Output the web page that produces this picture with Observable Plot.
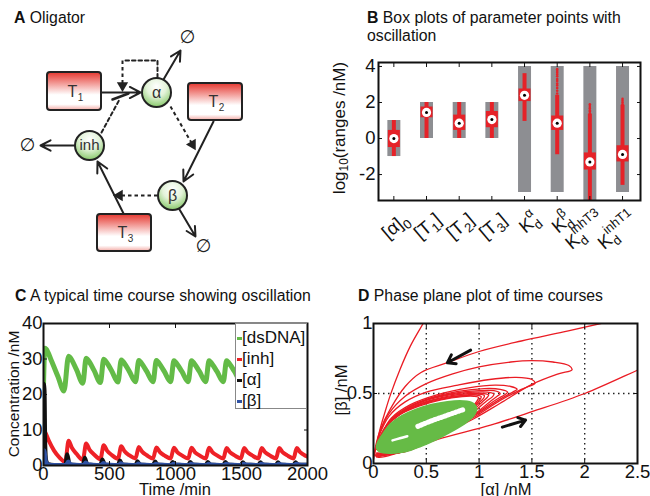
<!DOCTYPE html>
<html><head><meta charset="utf-8">
<script src="https://cdn.jsdelivr.net/npm/d3@7"></script>
<script src="https://cdn.jsdelivr.net/npm/@observablehq/plot@0.6"></script>
<style>
body{margin:0;background:#fff;}
#root{position:relative;width:650px;height:496px;overflow:hidden;font-family:"Liberation Sans",Arial,sans-serif;color:#111;}
.t{position:absolute;white-space:nowrap;font-size:15.8px;line-height:18px;}
.lab{position:absolute;white-space:nowrap;transform:translate(-50%,-50%);}
.rot{transform:translate(-50%,-50%) rotate(-90deg);}
sub{font-size:70%;vertical-align:-0.25em;line-height:0;}
svg.plot, figure{max-width:none!important;}
</style></head><body><div id="root"></div>
<script>
// ---------------- Panel A data (diagram) ----------------
const boxName = ["T","T","T"];
const boxSub = ["1","2","3"];
const boxX1 = [47,188,97], boxX2 = [101,242,151], boxY1 = [72,83,214], boxY2 = [110,120,251];
const nodeName = ["α","inh","β"];
const nodeX = [156,89,172], nodeY = [92,145,195];
const solidFrom = [[101,92],[163,79],[213,121],[123,213],[179,209],[74,145]];
const solidTo   = [[140,92],[180,50],[183,181],[97,161],[195,236],[40,145]];
const dashFrom = [[170,106],[157,195],[122,60]];
const dashTo   = [[192,144],[119,195],[122,85]];
const dashLoop = [[157,77],[157,60],[122,60]];
const inhibitLine = [[101,132],[119,99]];
const inhibitBar = [[112,99],[128,93]];
const emptyX = [187,27,203], emptyY = [37,145,246];

// ---------------- Panel B data ----------------
const paramMain = ["[α]","[T","[T","[T","K","K","K","K"];
const paramSub  = ["0","1","2","3","d","d","d","d"];
const paramTail = ["","]","]","]","","","",""];
const paramSup  = ["","","","","α","β","inhT3","inhT1"];
const rangeLo = [-1,0,0,0,-3,-3,-4,-3];
const rangeHi = [1,2,2,2,4,4,4,4];
const boxQ1 = [-0.5,1.15,0.45,0.6,2.05,0.45,-1.75,-1.3];
const boxQ3 = [0.45,1.75,1.3,1.5,2.75,1.25,-0.8,-0.4];
const medians = [0,1.45,0.85,1.05,2.4,0.85,-1.3,-0.88];
const whiskLo = [-1,0,0,0,0.95,-0.9,-4,-2.6];
const whiskHi = [1,2,2,2,3.6,2.4,1.35,1.85];
const outIdx = [6,6,6,6,6,6,6,6,6,6,6,6,7,7,7,7,7,7,7,8,8,8,8];
const outVal = [2.5,2.65,2.8,2.95,3.05,3.2,3.3,3.45,3.55,3.65,3.75,3.85,1.4,1.5,1.55,1.65,1.7,1.8,1.9,1.9,2.0,2.1,2.2];

// ---------------- Panel C data ----------------
const tGreen = [0,10,20,60,110,155,190,200,250,298,323,333,383,431,456,466,516,564,589,599,649,697,722,732,782,830,855,865,915,963,988,998,1048,1096,1121,1131,1181,1229,1254,1264,1314,1362,1387,1397,1447,1495,1520,1530,1580,1628,1653,1663,1713,1761,1786,1796,1846,1894,1919,1929,1979,2000];
const vGreen = [22.5,33,32.8,29.5,25,21, 30.8,30.5,27,23.2, 30.2,29.9,26.8,23.4, 29.9,29.6,26.7,23.5, 29.7,29.4,26.6,23.6, 29.6,29.3,26.5,23.6, 29.6,29.3,26.5,23.6, 29.5,29.2,26.5,23.6, 29.5,29.2,26.5,23.6, 29.5,29.2,26.5,23.6, 29.5,29.2,26.5,23.6, 29.5,29.2,26.5,23.6, 29.5,29.2,26.5,23.6, 29.5,29.2,26.5,23.6, 29.5,29.2,26.8,26.0];
const tRed = [0,5,12,40,80,120,165, 190,215,250,298, 323,348,383,431, 456,481,516,564, 589,614,649,697, 722,747,782,830, 855,880,915,963, 988,1013,1048,1096, 1121,1146,1181,1229, 1254,1279,1314,1362, 1387,1412,1447,1495, 1520,1545,1580,1628, 1653,1678,1713,1761, 1786,1811,1846,1894, 1919,1944,1979,2000];
const vRed = [0.5,9.8,9.4,7.0,4.2,2.3,1.0, 7.0,5.0,3.3,1.6, 6.2,4.5,3.1,1.8, 5.7,4.2,3.0,1.9, 5.4,4.0,2.9,2.0, 5.2,3.9,2.9,2.0, 5.1,3.85,2.85,2.0, 5.0,3.8,2.85,2.0, 5.0,3.8,2.85,2.0, 5.0,3.8,2.85,2.0, 4.9,3.75,2.85,2.0, 4.9,3.75,2.85,2.0, 4.9,3.75,2.85,2.0, 4.9,3.75,2.85,2.0, 4.9,3.75,2.85,2.5];
const tAlpha = [0,2,8,13,20,35,80, 165,180,198, 298,313,331, 431,446,464, 564,579,597, 697,712,730, 830,845,863, 963,978,996, 1096,1111,1129, 1229,1244,1262, 1362,1377,1395, 1495,1510,1528, 1628,1643,1661, 1761,1776,1794, 1894,1909,1927, 2000];
const vAlpha = [0,23,21,6,1.5,0.4,0.15, 0.15,3.2,0.3, 0.15,2.2,0.3, 0.15,1.7,0.3, 0.15,1.4,0.3, 0.15,1.2,0.3, 0.15,1.1,0.3, 0.15,1.0,0.3, 0.15,1.0,0.3, 0.15,1.0,0.3, 0.15,1.0,0.3, 0.15,0.95,0.3, 0.15,0.95,0.3, 0.15,0.95,0.3, 0.15,0.95,0.3, 0.2];
const tBeta = [0,4,9,18,35,80, 170,187,205,240, 303,320,338,373, 436,453,471,506, 569,586,604,639, 702,719,737,772, 835,852,870,905, 968,985,1003,1038, 1101,1118,1136,1171, 1234,1251,1269,1304, 1367,1384,1402,1437, 1500,1517,1535,1570, 1633,1650,1668,1703, 1766,1783,1801,1836, 1899,1916,1934,1969, 2000];
const vBeta = [0.2,4.3,3.8,1.2,0.3,0.15, 0.15,1.1,0.4,0.2, 0.15,0.85,0.35,0.2, 0.15,0.7,0.3,0.2, 0.15,0.6,0.3,0.2, 0.15,0.55,0.3,0.2, 0.15,0.5,0.3,0.2, 0.15,0.5,0.3,0.2, 0.15,0.5,0.3,0.2, 0.15,0.5,0.3,0.2, 0.15,0.5,0.3,0.2, 0.15,0.5,0.3,0.2, 0.15,0.5,0.3,0.2, 0.15,0.5,0.3,0.2, 0.15,0.5,0.3,0.2, 0.2];
const seriesNames = ["[dsDNA]","[inh]","[α]","[β]"];
const seriesColors = ["#63bb47","#ee2127","#111111","#2f52a4"];

// ---------------- Panel D data ----------------
const loopA = [[0.0,0.03],[0.02,0.1],[0.06,0.24],[0.11,0.37],[0.16,0.49],[0.25,0.67],[0.35,0.84],[0.47,1.0],[0.53,1.08]];
const loopB = [[2.4,1.04],[2.15,1.0],[1.8,0.94],[1.4,0.875],[1.0,0.8],[0.7,0.72],[0.45,0.65],[0.3,0.55],[0.16,0.39],[0.07,0.25],[0.025,0.14],[0.012,0.07],[0.04,0.045],[0.25,0.08],[0.6,0.17],[1.108,0.274],[1.5,0.37],[2.0,0.5],[2.5,0.667],[2.6,0.7]];
const loopC = [[0.03,0.05],[0.3,0.1],[0.65,0.21],[0.95,0.32],[1.2,0.43],[1.5,0.565],[1.75,0.64],[1.88,0.67],[1.85,0.7],[1.7,0.725],[1.5,0.735],[1.3,0.725],[1.0,0.69],[0.75,0.64],[0.5,0.57],[0.3,0.48],[0.15,0.36],[0.06,0.22],[0.02,0.1]];
const loopD = [[0.03,0.05],[0.3,0.095],[0.65,0.21],[0.95,0.33],[1.2,0.45],[1.4,0.53],[1.53,0.575],[1.5,0.6],[1.35,0.615],[1.1,0.6],[0.8,0.56],[0.5,0.51],[0.3,0.44],[0.15,0.34],[0.06,0.21],[0.02,0.1]];
const loopE = [[0.03,0.05],[0.3,0.09],[0.65,0.21],[0.95,0.34],[1.2,0.46],[1.33,0.515],[1.36,0.53],[1.3,0.55],[1.15,0.56],[0.9,0.54],[0.6,0.49],[0.35,0.42],[0.17,0.325],[0.07,0.2],[0.02,0.1]];
const loopF = [[0.03,0.055],[0.3,0.09],[0.65,0.21],[0.95,0.345],[1.15,0.45],[1.25,0.495],[1.27,0.51],[1.2,0.53],[1.05,0.535],[0.8,0.515],[0.55,0.47],[0.32,0.4],[0.16,0.31],[0.07,0.19],[0.02,0.1]];
const loopG = [[0.03,0.055],[0.3,0.09],[0.65,0.215],[0.95,0.35],[1.1,0.44],[1.18,0.485],[1.2,0.5],[1.14,0.52],[1.0,0.52],[0.75,0.5],[0.5,0.455],[0.3,0.385],[0.15,0.295],[0.07,0.19],[0.02,0.1]];
const loopH = [[0.03,0.06],[0.3,0.09],[0.65,0.215],[0.92,0.35],[1.06,0.44],[1.13,0.48],[1.14,0.495],[1.08,0.51],[0.95,0.51],[0.72,0.49],[0.48,0.445],[0.28,0.375],[0.14,0.285],[0.06,0.18],[0.02,0.1]];
const loopI = [[0.03,0.06],[0.3,0.088],[0.65,0.215],[0.9,0.35],[1.03,0.44],[1.08,0.475],[1.09,0.49],[1.04,0.5],[0.92,0.5],[0.7,0.48],[0.47,0.435],[0.27,0.365],[0.13,0.275],[0.06,0.18],[0.02,0.1]];
const loopJ = [[0.03,0.065],[0.3,0.087],[0.65,0.215],[0.88,0.35],[1.0,0.435],[1.045,0.47],[1.05,0.485],[1.0,0.495],[0.88,0.49],[0.68,0.47],[0.45,0.425],[0.26,0.355],[0.12,0.265],[0.055,0.175],[0.02,0.1]];
const loopK = [[0.03,0.07],[0.3,0.086],[0.65,0.215],[0.87,0.35],[0.98,0.43],[1.015,0.465],[1.02,0.478],[0.97,0.488],[0.86,0.485],[0.66,0.462],[0.44,0.418],[0.25,0.35],[0.12,0.26],[0.05,0.17],[0.02,0.1]];
const loopL = [[0.03,0.075],[0.3,0.085],[0.65,0.215],[0.86,0.35],[0.96,0.425],[0.99,0.46],[0.995,0.472],[0.95,0.48],[0.84,0.478],[0.64,0.455],[0.43,0.41],[0.24,0.345],[0.11,0.255],[0.05,0.165],[0.02,0.1]];
const limitCycle = [[0.03,0.11],[0.06,0.085],[0.15,0.075],[0.3,0.085],[0.45,0.125],[0.6,0.175],[0.75,0.235],[0.87,0.29],[0.95,0.345],[0.975,0.39],[0.94,0.43],[0.85,0.445],[0.7,0.44],[0.55,0.42],[0.4,0.385],[0.27,0.34],[0.16,0.28],[0.08,0.2],[0.04,0.15]];
const gapSolid = [[0.18,0.165],[0.25,0.18],[0.32,0.195]];
const gapChevrons = [[0.42,0.265],[0.55,0.305],[0.7,0.345],[0.85,0.385]];
const dirFrom = [[0.92,0.81],[1.22,0.26]];
const dirTo = [[0.70,0.72],[1.44,0.31]];

// ---------------- helpers ----------------
const root = document.getElementById("root");
const FONT = "Liberation Sans, Arial, sans-serif";
function put(node, left, top) {
  node.style.position = "absolute"; node.style.left = left + "px"; node.style.top = top + "px";
  node.style.background = "transparent"; node.style.overflow = "visible";
  root.appendChild(node); return node;
}
function html(cls, h, left, top, css) {
  const d = document.createElement("div"); d.className = cls; d.innerHTML = h;
  d.style.left = left + "px"; d.style.top = top + "px";
  if (css) Object.assign(d.style, css);
  root.appendChild(d); return d;
}
const rows = (pts, id) => pts.map(([x, y]) => ({x, y, id}));

// ---------------- Panel A ----------------
const boxes = boxName.map((n, i) => ({name: n, sub: boxSub[i], x1: boxX1[i], x2: boxX2[i], y1: boxY1[i], y2: boxY2[i]}));
const nodes = nodeName.map((n, i) => ({name: n, x: nodeX[i], y: nodeY[i]}));
const solid = solidFrom.map((f, i) => ({x1: f[0], y1: f[1], x2: solidTo[i][0], y2: solidTo[i][1]}));
const dashed = dashFrom.map((f, i) => ({x1: f[0], y1: f[1], x2: dashTo[i][0], y2: dashTo[i][1]}));
const empties = emptyX.map((x, i) => ({x, y: emptyY[i]}));
const plotA = Plot.plot({
  width: 330, height: 262, margin: 0,
  x: {domain: [0, 330], range: [0, 330], axis: null},
  y: {domain: [0, 262], range: [0, 262], axis: null},
  style: {fontFamily: FONT, background: "transparent", overflow: "visible"},
  marks: [
    Plot.line(rows(dashLoop, "l"), {x: "x", y: "y", stroke: "#222", strokeWidth: 2, strokeDasharray: "3.5,3"}),
    Plot.line(rows(inhibitLine, "i"), {x: "x", y: "y", stroke: "#222", strokeWidth: 2, strokeDasharray: "3.5,3"}),
    Plot.link(dashed, {x1: "x1", y1: "y1", x2: "x2", y2: "y2", stroke: "#222", strokeWidth: 2, strokeDasharray: "3.5,3"}),
    Plot.dot(dashed, {x: "x2", y: "y2", symbol: "triangle", r: 4.2, fill: "#222", stroke: null,
      rotate: d => Math.atan2(d.x2 - d.x1, -(d.y2 - d.y1)) * 180 / Math.PI}),
    Plot.arrow(solid, {x1: "x1", y1: "y1", x2: "x2", y2: "y2", stroke: "#222", strokeWidth: 2, headLength: 9, headAngle: 55}),
    Plot.line(rows(inhibitBar, "b"), {x: "x", y: "y", stroke: "#222", strokeWidth: 2.5}),
    Plot.rect(boxes, {x1: "x1", x2: "x2", y1: "y1", y2: "y2", fill: "url(#gradT)", stroke: "#222", strokeWidth: 2, rx: 3}),
    Plot.dot(nodes, {x: "x", y: "y", r: 14.5, fill: "url(#gradC)", stroke: "#222", strokeWidth: 2}),
    Plot.text(boxes, {x: d => (d.x1 + d.x2) / 2 - 2, y: d => (d.y1 + d.y2) / 2, text: "name", fontSize: 16, fill: "#333"}),
    Plot.text(boxes, {x: d => (d.x1 + d.x2) / 2 + 6, y: d => (d.y1 + d.y2) / 2 + 6, text: "sub", fontSize: 10, fill: "#333"}),
    Plot.text(nodes, {x: "x", y: "y", text: "name", fontSize: d => d.name === "inh" ? 15 : 16, fill: "#333"}),
    Plot.text(empties, {x: "x", y: "y", text: () => "∅", fontSize: 18, fontFamily: "DejaVu Sans", fill: "#222"})
  ]
});
{
  const defs = d3.select(plotA).insert("defs", ":first-child");
  const g1 = defs.append("linearGradient").attr("id", "gradT").attr("x1", 0).attr("y1", 0).attr("x2", 0).attr("y2", 1);
  g1.append("stop").attr("offset", "0").attr("stop-color", "#e5372f");
  g1.append("stop").attr("offset", "0.6").attr("stop-color", "#ffffff");
  g1.append("stop").attr("offset", "0.85").attr("stop-color", "#ffffff");
  g1.append("stop").attr("offset", "1").attr("stop-color", "#f3aaa5");
  const g2 = defs.append("radialGradient").attr("id", "gradC").attr("cx", 0.5).attr("cy", 0.3).attr("r", 0.75);
  g2.append("stop").attr("offset", "0").attr("stop-color", "#ffffff");
  g2.append("stop").attr("offset", "0.45").attr("stop-color", "#e3f3d9");
  g2.append("stop").attr("offset", "1").attr("stop-color", "#7cc35c");
}
put(plotA, 0, 0);
html("t", "<b>A</b> Oligator", 14, 9);

// ---------------- Panel B ----------------
const RED = "#e52228";
const bData = paramMain.map((m, i) => ({i: i + 1, lo: rangeLo[i], hi: rangeHi[i], q1: boxQ1[i], q3: boxQ3[i], med: medians[i], wl: whiskLo[i], wh: whiskHi[i]}));
const bOut = outIdx.map((k, j) => ({i: k, v: outVal[j]}));
const plotB = Plot.plot({
  width: 320, height: 250, marginLeft: 48, marginRight: 10, marginTop: 62, marginBottom: 50,
  x: {domain: [0.53, 8.55]}, y: {domain: [-3.44, 4.22]},
  style: {fontFamily: FONT, fontSize: "18.5px", background: "transparent", overflow: "visible", color: "#111"},
  marks: [
    Plot.ruleX(bData, {x: "i", y1: "lo", y2: "hi", stroke: "#8d8e92", strokeWidth: 13, clip: true}),
    Plot.ruleX(bData, {x: "i", y1: "wl", y2: "wh", stroke: RED, strokeWidth: 4, clip: true}),
    Plot.dot(bOut, {x: "i", y: "v", r: 1.3, fill: RED}),
    Plot.ruleX(bData, {x: "i", y1: "q1", y2: "q3", stroke: RED, strokeWidth: 12}),
    Plot.dot(bData, {x: "i", y: "med", r: 4.6, fill: "white"}),
    Plot.dot(bData, {x: "i", y: "med", r: 1.5, fill: "black"}),
    Plot.axisY({anchor: "left", ticks: [-2, 0, 2, 4], tickSize: -4, tickPadding: 7, tickFormat: d => String(d), label: null}),
    Plot.axisY({anchor: "right", ticks: [-2, 0, 2, 4], tickSize: -4, tickFormat: () => "", label: null}),
    Plot.axisX({anchor: "bottom", ticks: [1,2,3,4,5,6,7,8], tickSize: -4, tickFormat: () => "", label: null}),
    Plot.axisX({anchor: "top", ticks: [1,2,3,4,5,6,7,8], tickSize: -4, tickFormat: () => "", label: null}),
    Plot.text(bData, {x: "i", frameAnchor: "bottom", text: (d, k) => paramMain[k] + paramSub[k] + paramTail[k] + paramSup[k],
      rotate: -40, textAnchor: "end", lineAnchor: "bottom", dx: 16, dy: 21, fontSize: 18.5}),
    Plot.frame({stroke: "#111", strokeWidth: 2})
  ]
});
d3.select(plotB).selectAll('g[aria-label="text"] text').each(function(d, k) {
  const el = d3.select(this); el.text("");
  el.append("tspan").text(paramMain[k]);
  el.append("tspan").attr("dy", 5).attr("font-size", 13).text(paramSub[k]);
  if (paramSup[k]) el.append("tspan").attr("dx", -7.5).attr("dy", -15).attr("font-size", 13).text(paramSup[k]);
  if (paramTail[k]) el.append("tspan").attr("dy", -5).text(paramTail[k]);
});
put(plotB, 330, 0);
html("t", "<b>B</b> Box plots of parameter points with<br>oscillation", 367, 9);
html("lab rot", "log<sub>10</sub>(ranges /nM)", 340, 128, {fontSize: "17px"});

// ---------------- Panel C ----------------
const mk = (t, v) => t.map((x, i) => ({t: x, v: v[i]}));
const plotC = Plot.plot({
  width: 330, height: 186, marginLeft: 43, marginRight: 23, marginTop: 13, marginBottom: 31,
  x: {domain: [0, 2000]}, y: {domain: [0, 40]},
  style: {fontFamily: FONT, fontSize: "18.5px", background: "transparent", overflow: "visible", color: "#111"},
  marks: [
    Plot.line(mk(tGreen, vGreen), {x: "t", y: "v", stroke: seriesColors[0], strokeWidth: 5, curve: "monotone-x", clip: true}),
    Plot.line(mk(tRed, vRed), {x: "t", y: "v", stroke: seriesColors[1], strokeWidth: 4, curve: "monotone-x", clip: true}),
    Plot.line(mk(tAlpha, vAlpha), {x: "t", y: "v", stroke: seriesColors[2], strokeWidth: 4, curve: "monotone-x", clip: true}),
    Plot.line(mk(tBeta, vBeta), {x: "t", y: "v", stroke: seriesColors[3], strokeWidth: 4, curve: "monotone-x", clip: true}),
    Plot.axisY({anchor: "left", ticks: [0,10,20,30,40], tickSize: -4, tickPadding: 5, tickFormat: d => String(d), label: null}),
    Plot.axisY({anchor: "right", ticks: [0,10,20,30,40], tickSize: -4, tickFormat: () => "", label: null}),
    Plot.axisX({anchor: "bottom", ticks: [0,500,1000,1500,2000], tickSize: -4, tickPadding: 5, tickFormat: d => String(d), label: null}),
    Plot.axisX({anchor: "top", ticks: [0,500,1000,1500,2000], tickSize: -4, tickFormat: () => "", label: null}),
    Plot.frame({stroke: "#111", strokeWidth: 2})
  ]
});
put(plotC, 0, 310);
html("t", "<b>C</b> A typical time course showing oscillation", 15, 287);
html("lab rot", "Concentration /nM", 14, 394, {fontSize: "15.5px"});
html("lab", "Time /min", 175, 489, {fontSize: "16.5px"});
{
  const lg = document.createElement("div");
  Object.assign(lg.style, {position: "absolute", left: "235px", top: "323px", width: "72px", height: "86px", background: "#fff", border: "1px solid #888", boxSizing: "border-box", fontSize: "17px", lineHeight: "21px", paddingTop: "3px"});
  lg.innerHTML = seriesNames.map((n, i) => `<div style="white-space:nowrap"><span style="display:inline-block;width:5px;height:3px;background:${seriesColors[i]};vertical-align:middle;margin:0 0 0 1px"></span>${n}</div>`).join("");
  root.appendChild(lg);
}

// ---------------- Panel D ----------------
const loops = [loopA, loopB, loopC, loopD, loopE, loopF, loopG, loopH, loopI, loopJ, loopK, loopL].flatMap((l, k) => rows(l, k));
const dArrows = dirFrom.map((f, i) => ({x1: f[0], y1: f[1], x2: dirTo[i][0], y2: dirTo[i][1]}));
const plotD = Plot.plot({
  width: 320, height: 186, marginLeft: 43, marginRight: 13, marginTop: 13, marginBottom: 33,
  x: {domain: [0, 2.5]}, y: {domain: [0, 1]},
  style: {fontFamily: FONT, fontSize: "18.5px", background: "transparent", overflow: "visible", color: "#111"},
  marks: [
    Plot.ruleX([0.5, 1, 1.5, 2], {stroke: "#222", strokeDasharray: "1.5,3.5", strokeWidth: 1.4}),
    Plot.ruleY([0.5], {stroke: "#222", strokeDasharray: "1.5,3.5", strokeWidth: 1.4}),
    Plot.line(loops, {x: "x", y: "y", z: "id", stroke: "#ea1c24", strokeWidth: 1.3, curve: "catmull-rom", clip: true}),
    Plot.line(rows(limitCycle, 0), {x: "x", y: "y", fill: "#66bb46", stroke: "#66bb46", strokeWidth: 2, curve: "catmull-rom-closed"}),
    Plot.line(rows(gapSolid, 0), {x: "x", y: "y", stroke: "white", strokeWidth: 2.5, curve: "catmull-rom"}),
    Plot.line(rows(gapChevrons, 1), {x: "x", y: "y", stroke: "white", strokeWidth: 5, strokeDasharray: "1,2.6", curve: "catmull-rom"}),
    Plot.arrow(dArrows, {x1: "x1", y1: "y1", x2: "x2", y2: "y2", stroke: "#111", strokeWidth: 3, headLength: 7, headAngle: 70}),
    Plot.axisY({anchor: "left", ticks: [0, 0.5, 1], tickSize: -4, tickPadding: 5, tickFormat: d => String(d), label: null}),
    Plot.axisY({anchor: "right", ticks: [0, 0.5, 1], tickSize: -4, tickFormat: () => "", label: null}),
    Plot.axisX({anchor: "bottom", ticks: [0,0.5,1,1.5,2,2.5], tickSize: -4, tickPadding: 5, tickFormat: d => String(d), label: null}),
    Plot.axisX({anchor: "top", ticks: [0,0.5,1,1.5,2,2.5], tickSize: -4, tickFormat: () => "", label: null}),
    Plot.frame({stroke: "#111", strokeWidth: 2})
  ]
});
put(plotD, 330, 310);
html("t", "<b>D</b> Phase plane plot of time courses", 358, 287);
html("lab rot", "[β] /nM", 341, 390, {fontSize: "16.5px"});
html("lab", "[α] /nM", 506, 489, {fontSize: "16.5px"});
</script></body></html>
